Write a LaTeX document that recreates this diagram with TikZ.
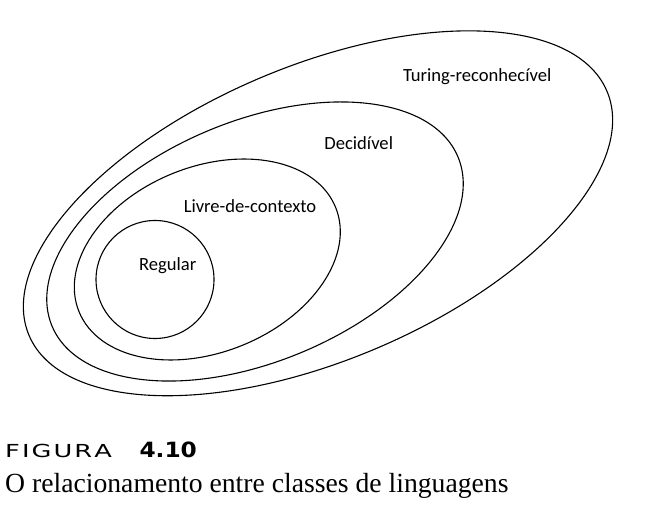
\documentclass[tikz,border=0pt]{standalone}
\usepackage{fontspec}
\usepackage{graphicx}
\setmainfont{Liberation Serif}
\newfontfamily\labelfont{Carlito}
\newfontfamily\figfont{DejaVu Sans}
\newfontfamily\numfont{DejaVu Sans}
\begin{document}
\begin{tikzpicture}[x=1pt,y=1pt,
  setline/.style={line width=1.1pt, draw=black},
  setlabel/.style={font=\labelfont\fontsize{18.6}{22}\selectfont, inner sep=0pt, anchor=base},
  captext/.style={inner sep=0pt, anchor=base west},
]
\useasboundingbox (0,0) rectangle (645,528);
% Turing-reconhecivel
\draw[setline, rotate around={22.9:(318,314.7)}] (318,314.7) ellipse [x radius=313.7, y radius=147.2];
% Decidivel
\draw[setline, rotate around={22.6:(255,286.5)}] (255,286.5) ellipse [x radius=219.9, y radius=120.3];
% Livre-de-contexto
\draw[setline, rotate around={22.1:(207.3,268.5)}] (207.3,268.5) ellipse [x radius=138.5, y radius=92.7];
% Regular
\draw[setline] (155,248.5) circle [radius=59];

\node[setlabel] (turing) at (477.2,446.3) {Turing-reconhecível};
\node[setlabel] (decid) at (358.7,378) {Decidível};
\node[setlabel] (livre) at (250,315.7) {Livre-de-contexto};
\node[setlabel] (regular) at (167.7,257.3) {Regular};

\node[captext] (figword) at (5,70.7) {\resizebox{106.7pt}{13.3pt}{\figfont F\kern0.8pt I\kern0.8pt G\kern0.8pt U\kern0.8pt R\kern0.8pt A}};
\node[captext] (fignum) at (139.3,70.7) {\resizebox{57.4pt}{15.6pt}{\numfont\bfseries 4.10}};
\node[captext] (caption) at (5,35.3) {\resizebox{503.3pt}{!}{O relacionamento entre classes de linguagens}};
\end{tikzpicture}
\end{document}
